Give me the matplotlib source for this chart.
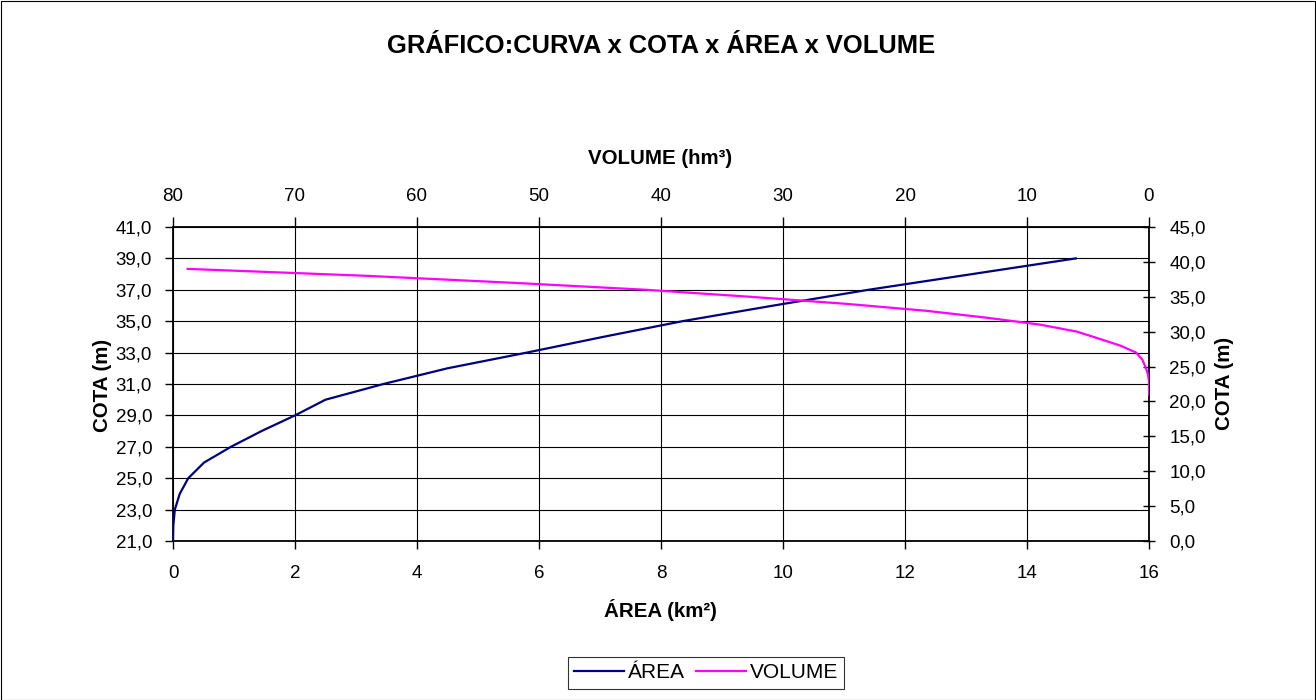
import matplotlib
matplotlib.use("Agg")
import matplotlib.pyplot as plt
from matplotlib.ticker import FuncFormatter, FixedLocator
from matplotlib.patches import Rectangle

plt.rcParams['font.family'] = ['Liberation Sans', 'DejaVu Sans']

# Data
cota = [21, 22, 23, 24, 25, 26, 27, 28, 29, 30, 31, 32, 33, 34, 35, 36, 37, 38, 39]
area = [0.0, 0.005, 0.03, 0.11, 0.25, 0.51, 0.95, 1.45, 2.0, 2.5, 3.45, 4.5, 5.8,
        7.05, 8.35, 9.85, 11.4, 13.1, 14.8]
volume = [0.0, 0.0, 0.01, 0.1, 0.3, 0.55, 1.05, 2.35, 4.1, 5.9, 8.9, 13.3, 18.3,
          24.9, 32.7, 41.2, 52.1, 64.1, 78.8]

left_ticks = [21, 23, 25, 27, 29, 31, 33, 35, 37, 39, 41]
right_ticks = [0, 5, 10, 15, 20, 25, 30, 35, 40, 45]
bottom_ticks = [0, 2, 4, 6, 8, 10, 12, 14, 16]
top_ticks = [80, 70, 60, 50, 40, 30, 20, 10, 0]

title = "GRÁFICO:CURVA x COTA x ÁREA x VOLUME"

W, H = 1316, 700
fig = plt.figure(figsize=(W / 100, H / 100), dpi=100)
fig.patch.set_facecolor('white')
fig.add_artist(Rectangle((0.5 / W, 0.5 / H), (W - 1.5) / W, (H - 1.5) / H,
                         transform=fig.transFigure, fill=False, edgecolor='black', lw=0.8))

L, R, T, B = 173, 1149, 227, 541
pos = [L / W, 1 - B / H, (R - L) / W, (B - T) / H]
ax = fig.add_axes(pos)
ax2 = fig.add_axes(pos, frameon=False)
ax2.patch.set_visible(False)

comma = FuncFormatter(lambda v, p: f"{v:.1f}".replace('.', ','))
intfmt = FuncFormatter(lambda v, p: f"{v:.0f}")
FS = 13.5

# Primary axes: area vs cota
ax.plot(area, cota, color='#000080', lw=1.6, label='ÁREA', zorder=3)
ax.set_xlim(0, 16)
ax.set_ylim(21, 41)
ax.xaxis.set_major_locator(FixedLocator(bottom_ticks))
ax.yaxis.set_major_locator(FixedLocator(left_ticks))
ax.yaxis.set_major_formatter(comma)
ax.xaxis.set_major_formatter(intfmt)
ax.grid(True, color='black', lw=0.8)
ax.set_axisbelow(True)
for s in ax.spines.values():
    s.set_linewidth(1.3)
ax.tick_params(axis='y', labelsize=FS, length=6, width=1, direction='out', pad=9)
ax.tick_params(axis='x', labelsize=FS, length=6, width=1, direction='out', pad=11)

# Secondary axes: volume vs cota
ln2, = ax2.plot(volume, cota, color='#FF00FF', lw=1.6, label='VOLUME', zorder=3)
ax2.set_xlim(80, 0)
ax2.set_ylim(0, 45)
ax2.xaxis.tick_top()
ax2.yaxis.tick_right()
ax2.xaxis.set_major_locator(FixedLocator(top_ticks))
ax2.yaxis.set_major_locator(FixedLocator(right_ticks))
ax2.yaxis.set_major_formatter(comma)
ax2.xaxis.set_major_formatter(intfmt)
ax2.tick_params(axis='y', labelsize=FS, length=9, width=1, direction='inout', pad=10)
ax2.tick_params(axis='x', labelsize=FS, length=7, width=1, direction='out', pad=8.5)

# Axis titles
AFS = 14.8
fig.text(660 / W, 1 - 158 / H, 'VOLUME (hm³)', ha='center', va='center', fontsize=AFS, fontweight='bold')
fig.text(660 / W, 1 - 610 / H, 'ÁREA (km²)', ha='center', va='center', fontsize=AFS, fontweight='bold')
fig.text(102 / W, 1 - 385 / H, 'COTA (m)', ha='center', va='center', fontsize=AFS,
         fontweight='bold', rotation=90)
fig.text(1225 / W, 1 - 383 / H, 'COTA (m)', ha='center', va='center', fontsize=AFS,
         fontweight='bold', rotation=90)

fig.text(661 / W, 1 - 46 / H, title, ha='center', va='center', fontsize=18.4, fontweight='bold')

h1, l1 = ax.get_legend_handles_labels()
leg = fig.legend([h1[0], ln2], [l1[0], 'VOLUME'], loc='center',
                 bbox_to_anchor=(706 / W, 1 - 673 / H), ncol=2, fontsize=15,
                 frameon=True, fancybox=False, edgecolor='black', handlelength=2.4,
                 columnspacing=0.5, handletextpad=0.2, borderpad=0.3, borderaxespad=0)
leg.get_frame().set_linewidth(0.8)

fig.savefig('out.png', dpi=100)
